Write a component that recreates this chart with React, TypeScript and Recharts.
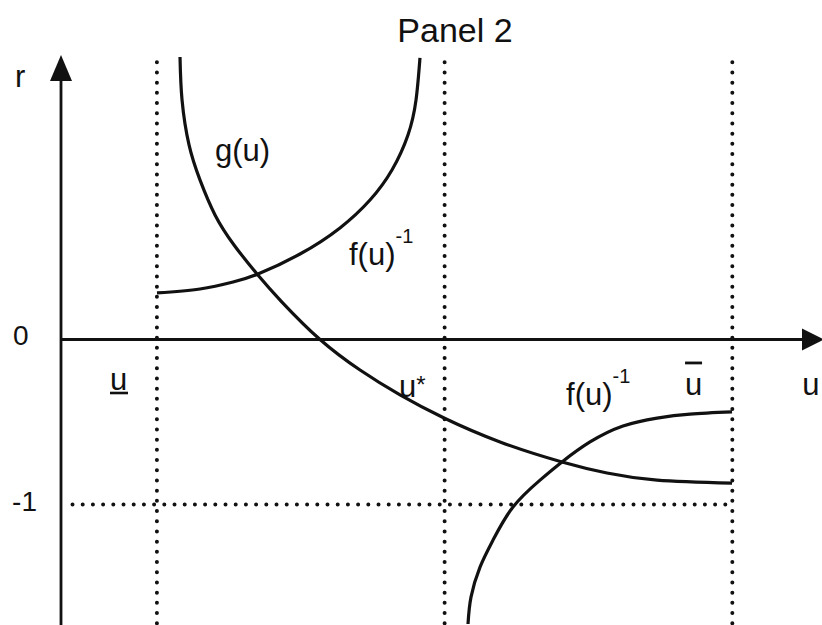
import React from "react";
import {
  ComposedChart,
  Line,
  XAxis,
  YAxis,
  ReferenceLine,
  ReferenceDot,
} from "recharts";

// bounds of the admissible u range and the middle guide
const uLow = 1;
const uMid = 4;
const uBar = 7;
const rFloor = -1;

// g(u), falling through r = 0
const gU = [1.241, 1.262, 1.335, 1.449, 1.606, 1.804, 2.044, 2.304, 2.701, 3.118, 3.535, 3.994, 4.578, 5.224, 5.693, 6.215, 6.997];
const gR = [1.712, 1.452, 1.179, 0.967, 0.755, 0.573, 0.397, 0.227, 0.0, -0.185, -0.336, -0.476, -0.621, -0.742, -0.809, -0.852, -0.87];

// upper branch of f(u)^-1
const fUpU = [1.001, 1.449, 1.794, 2.054, 2.492, 2.909, 3.222, 3.451, 3.618, 3.702, 3.743];
const fUpR = [0.282, 0.306, 0.348, 0.397, 0.518, 0.676, 0.845, 1.027, 1.239, 1.452, 1.706];

// lower branch of f(u)^-1
const fLoU = [4.244, 4.275, 4.369, 4.505, 4.713, 4.995, 5.224, 5.516, 5.86, 6.215, 6.559, 6.997];
const fLoR = [-1.724, -1.561, -1.379, -1.215, -1.015, -0.852, -0.742, -0.621, -0.524, -0.476, -0.452, -0.439];

const toRows = (us: number[], rs: number[]) => us.map((u, i) => ({ u, r: rs[i] }));

const W = 822;
const H = 625;
const U_MAX = 7.935;
const R_MAX = 1.73;

const FONT = "'Liberation Sans', Arial, Helvetica, sans-serif";
const ink = "#111";

const dotted = {
  stroke: ink,
  strokeWidth: 4,
  strokeDasharray: "0 10.2",
  strokeLinecap: "round" as const,
};

type DotProps = { cx?: number; cy?: number };

// places a piece of text at a data position (baseline-left)
function note(key: string, u: number, r: number, draw: (x: number, y: number) => React.ReactNode) {
  return (
    <ReferenceDot
      key={key}
      x={u}
      y={r}
      r={0}
      ifOverflow="visible"
      shape={(p: DotProps) => <g>{draw(p.cx ?? 0, p.cy ?? 0)}</g>}
    />
  );
}

const txt = { fontFamily: FONT, fill: ink, fontSize: 31 };
const num = { fontFamily: FONT, fill: ink, fontSize: 28 };

export default function App() {
  return (
    <div style={{ position: "absolute", left: 0, top: 0, background: "#fff" }}>
      <ComposedChart width={W} height={H} margin={{ top: 54, right: 0, bottom: 0, left: 61 }}>
        <XAxis dataKey="u" type="number" domain={[0, U_MAX]} allowDataOverflow hide />
        <YAxis type="number" domain={[-R_MAX, R_MAX]} allowDataOverflow hide />

        {/* guide lines */}
        {[uLow, uMid, uBar].map((u) => (
          <ReferenceLine
            key={u}
            segment={[
              { x: u, y: 1.68 },
              { x: u, y: -R_MAX },
            ]}
            {...dotted}
          />
        ))}
        <ReferenceLine
          segment={[
            { x: 0.12, y: rFloor },
            { x: uBar, y: rFloor },
          ]}
          {...dotted}
        />

        {/* axes */}
        <ReferenceLine segment={[{ x: 0, y: 0 }, { x: 7.77, y: 0 }]} stroke={ink} strokeWidth={2.8} />
        <ReferenceLine segment={[{ x: 0, y: -R_MAX }, { x: 0, y: 1.6 }]} stroke={ink} strokeWidth={2.8} />
        <ReferenceDot
          x={0}
          y={1.724}
          r={0}
          ifOverflow="visible"
          shape={(p: DotProps) => (
            <polygon
              points={`${p.cx},${p.cy} ${(p.cx ?? 0) - 11},${(p.cy ?? 0) + 26} ${(p.cx ?? 0) + 11},${(p.cy ?? 0) + 26}`}
              fill={ink}
            />
          )}
        />
        <ReferenceDot
          x={U_MAX}
          y={0}
          r={0}
          ifOverflow="visible"
          shape={(p: DotProps) => (
            <polygon
              points={`${(p.cx ?? 0) + 2},${p.cy} ${(p.cx ?? 0) - 20},${(p.cy ?? 0) - 11} ${(p.cx ?? 0) - 20},${(p.cy ?? 0) + 11}`}
              fill={ink}
            />
          )}
        />

        {/* curves */}
        <Line data={toRows(gU, gR)} dataKey="r" type="natural" stroke={ink} strokeWidth={3.2} dot={false} isAnimationActive={false} />
        <Line data={toRows(fUpU, fUpR)} dataKey="r" type="natural" stroke={ink} strokeWidth={3.2} dot={false} isAnimationActive={false} />
        <Line data={toRows(fLoU, fLoR)} dataKey="r" type="natural" stroke={ink} strokeWidth={3.2} dot={false} isAnimationActive={false} />

        {/* labels */}
        {note("title", 4.108, 1.803, (x, y) => (
          <text x={x} y={y} textAnchor="middle" fontFamily={FONT} fontSize={34} fill={ink}>
            Panel 2
          </text>
        ))}
        {note("r", -0.48, 1.53, (x, y) => (
          <text x={x} y={y} {...txt}>r</text>
        ))}
        {note("zero", -0.5, -0.033, (x, y) => (
          <text x={x} y={y} {...num}>0</text>
        ))}
        {note("minus1", -0.51, -1.039, (x, y) => (
          <text x={x} y={y} {...num}>-1</text>
        ))}
        {note("g", 1.606, 1.082, (x, y) => (
          <text x={x} y={y} {...txt}>g(u)</text>
        ))}
        {note("fup", 3.003, 0.452, (x, y) => (
          <text x={x} y={y} {...txt}>
            f(u)<tspan dy={-22} fontSize={20}>-1</tspan>
          </text>
        ))}
        {note("ulow", 0.511, -0.306, (x, y) => (
          <g>
            <text x={x} y={y} {...txt}>u</text>
            <line x1={x} x2={x + 18} y1={y + 3} y2={y + 3} stroke={ink} strokeWidth={2.6} />
          </g>
        ))}
        {note("ustar", 3.525, -0.348, (x, y) => (
          <text x={x} y={y} {...txt}>
            u<tspan dy={-4} fontSize={24}>*</tspan>
          </text>
        ))}
        {note("flo", 5.266, -0.397, (x, y) => (
          <text x={x} y={y} {...txt}>
            f(u)<tspan dy={-22} fontSize={20}>-1</tspan>
          </text>
        ))}
        {note("ubar", 6.507, -0.336, (x, y) => (
          <g>
            <text x={x} y={y} {...txt}>u</text>
            <line x1={x} x2={x + 17} y1={y - 32} y2={y - 32} stroke={ink} strokeWidth={2.8} />
          </g>
        ))}
        {note("uaxis", 7.73, -0.336, (x, y) => (
          <text x={x} y={y} {...txt}>u</text>
        ))}
      </ComposedChart>
    </div>
  );
}
